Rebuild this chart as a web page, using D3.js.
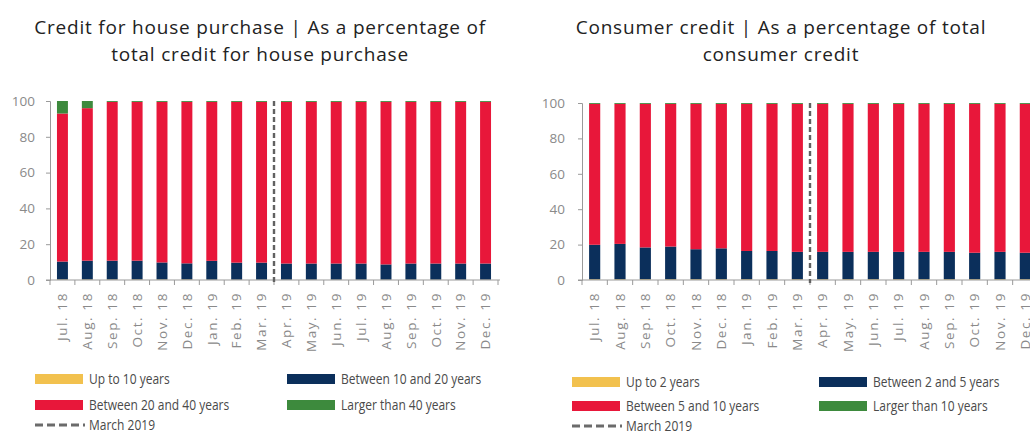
<!DOCTYPE html>
<html>
<head>
<meta charset="utf-8">
<script src="https://cdn.jsdelivr.net/npm/d3@7"></script>
<style>
  html, body { margin: 0; padding: 0; background: #fff; overflow: hidden; }
  .title { font-family: "Open Sans", sans-serif; font-size: 19px; letter-spacing: 0.8px; fill: #222; }
  .tick-label { font-family: "Open Sans", sans-serif; font-size: 13.5px; fill: #8a8a8a; }
  .legend-text { font-family: "Open Sans", sans-serif; font-size: 15px; fill: #4a4a4a; }
</style>
</head>
<body>
<svg id="chart" width="1030" height="437"></svg>
<script>
// Months shown on both panels
const months = ["Jul. 18","Aug. 18","Sep. 18","Oct. 18","Nov. 18","Dec. 18","Jan. 19","Feb. 19","Mar. 19",
                "Apr. 19","May. 19","Jun. 19","Jul. 19","Aug. 19","Sep. 19","Oct. 19","Nov. 19","Dec. 19"];
const markerBetween = ["Mar. 19", "Apr. 19"];
const yTicks = [0, 20, 40, 60, 80, 100];

// Credit for house purchase, % by maturity
const houseUpTo10   = [0.3,0.3,0.3,0.3,0.3,0.3,0.2,0.2,0.2,0.2,0.2,0.2,0.2,0.2,0.2,0.2,0.2,0.2];
const house10to20   = [10,10.5,10.5,10.5,9.5,9,10.5,9.5,9.5,9,9,9,9,8.5,9,9,9,9];
const house20to40   = [82.7,85.2,88.7,88.7,89.7,90.2,88.8,89.8,89.8,90.3,90.3,90.3,90.3,90.8,90.3,90.3,90.3,90.3];
const houseOver40   = [7,4,0.5,0.5,0.5,0.5,0.5,0.5,0.5,0.5,0.5,0.5,0.5,0.5,0.5,0.5,0.5,0.5];
const houseLabels   = ["Up to 10 years","Between 10 and 20 years","Between 20 and 40 years","Larger than 40 years"];

// Consumer credit, % by maturity
const consUpTo2     = [0.4,0.4,0.4,0.4,0.4,0.4,0.4,0.4,0.4,0.4,0.4,0.4,0.4,0.4,0.4,0.4,0.4,0.4];
const cons2to5      = [19.5,20,18,18.5,17,17.5,16,16,15.5,15.5,15.5,15.5,15.5,15.5,15.5,15,15.5,15];
const cons5to10     = [79.6,79.1,81.1,80.6,82.1,81.6,83.1,83.1,83.6,83.6,83.6,83.6,83.6,83.6,83.6,84.1,83.6,84.1];
const consOver10    = [0.5,0.5,0.5,0.5,0.5,0.5,0.5,0.5,0.5,0.5,0.5,0.5,0.5,0.5,0.5,0.5,0.5,0.5];
const consLabels    = ["Up to 2 years","Between 2 and 5 years","Between 5 and 10 years","Larger than 10 years"];

const markerLabel = "March 2019";
const colors = ["#f2c14e", "#0b2f5b", "#e8173a", "#3d8a3d"];

const svg = d3.select("#chart");

function panel(cfg) {
  const g = svg.append("g");
  const x = d3.scaleBand().domain(months).range([cfg.x0, cfg.x1]).paddingInner(0.56).paddingOuter(0.28);
  const y = d3.scaleLinear().domain([0, 100]).range([cfg.yBottom, cfg.yTop]);

  // titles
  cfg.title.forEach((t, i) => {
    g.append("text").attr("class", "title")
      .attr("x", cfg.titleX).attr("y", 34 + i * 27)
      .attr("text-anchor", "middle").text(t);
  });

  // stacked bars
  const keys = ["a", "b", "c", "d"];
  const rows = months.map((m, i) => ({ month: m, a: cfg.series[0][i], b: cfg.series[1][i], c: cfg.series[2][i], d: cfg.series[3][i] }));
  const stacked = d3.stack().keys(keys)(rows);
  g.selectAll("g.layer").data(stacked).join("g")
    .attr("class", "layer")
    .attr("fill", (d, i) => colors[i])
    .selectAll("rect").data(d => d).join("rect")
    .attr("x", d => x(d.data.month))
    .attr("width", x.bandwidth())
    .attr("y", d => y(d[1]))
    .attr("height", d => y(d[0]) - y(d[1]));

  // y axis
  const ya = g.append("g").attr("transform", `translate(${cfg.x0},0)`)
    .call(d3.axisLeft(y).tickValues(yTicks).tickSize(4).tickPadding(cfg.yPad));
  ya.select(".domain").attr("stroke", "#9a9a9a");
  ya.selectAll(".tick line").attr("stroke", "#9a9a9a");
  ya.selectAll("text").attr("class", "tick-label").attr("fill", null).attr("font-size", null).attr("font-family", null);

  // x axis: labels at band centres, ticks on band boundaries
  const step = x.step();
  const bounds = months.map(m => x(m) + x.bandwidth() / 2 - step / 2).concat([x(months[months.length - 1]) + x.bandwidth() / 2 + step / 2]);
  const xa = g.append("g").attr("transform", `translate(0,${cfg.yBottom})`);
  xa.append("line").attr("x1", cfg.x0 - 4).attr("x2", bounds[bounds.length - 1] + 2)
    .attr("stroke", "#9a9a9a");
  xa.selectAll("line.tk").data(bounds).join("line").attr("class", "tk")
    .attr("x1", d => d).attr("x2", d => d).attr("y1", 0).attr("y2", 5)
    .attr("stroke", "#9a9a9a");
  xa.selectAll("text").data(months).join("text").attr("class", "tick-label")
    .attr("transform", d => `translate(${x(d) + x.bandwidth() / 2},12) rotate(-90)`)
    .attr("text-anchor", "end").attr("dy", "0.35em")
    .attr("letter-spacing", "1.6px")
    .text(d => d);

  // March 2019 marker between the two months
  const mx = (x(markerBetween[0]) + x(markerBetween[1]) + x.bandwidth()) / 2;
  g.append("line").attr("x1", mx).attr("x2", mx)
    .attr("y1", y(100)).attr("y2", y(0) + 3)
    .attr("stroke", "#616161").attr("stroke-width", 2.4).attr("stroke-dasharray", "5,3");

  // legend (narrow lettering)
  const L = cfg.legend;
  const items = [
    { label: cfg.labels[0], color: colors[0], cx: L.c1, cy: L.r1 },
    { label: cfg.labels[1], color: colors[1], cx: L.c2, cy: L.r1 },
    { label: cfg.labels[2], color: colors[2], cx: L.c1, cy: L.r2 },
    { label: cfg.labels[3], color: colors[3], cx: L.c2, cy: L.r2 }
  ];
  const legendText = (tx, ty, label) =>
    g.append("text").attr("class", "legend-text")
      .attr("transform", `translate(${tx},${ty}) scale(0.8,1)`)
      .attr("dy", "0.35em").text(label);
  items.forEach(it => {
    g.append("rect").attr("x", it.cx).attr("y", it.cy - 5).attr("width", 48).attr("height", 10).attr("fill", it.color);
    legendText(it.cx + 54, it.cy, it.label);
  });
  g.append("line").attr("x1", L.c1).attr("x2", L.c1 + 50).attr("y1", L.r3).attr("y2", L.r3)
    .attr("stroke", "#6b6b6b").attr("stroke-width", 3).attr("stroke-dasharray", "8,4");
  legendText(L.c1 + 54, L.r3, markerLabel);
}

panel({
  title: ["Credit for house purchase | As a percentage of", "total credit for house purchase"],
  titleX: 260, x0: 50, x1: 498, yTop: 101, yBottom: 280, yPad: 11,
  series: [houseUpTo10, house10to20, house20to40, houseOver40], labels: houseLabels,
  legend: { c1: 35, c2: 287, r1: 379, r2: 405, r3: 425 }
});

panel({
  title: ["Consumer credit | As a percentage of total", "consumer credit"],
  titleX: 781, x0: 582, x1: 1038, yTop: 103, yBottom: 280, yPad: 13,
  series: [consUpTo2, cons2to5, cons5to10, consOver10], labels: consLabels,
  legend: { c1: 572, c2: 819, r1: 382, r2: 406, r3: 426 }
});
</script>
</body>
</html>
